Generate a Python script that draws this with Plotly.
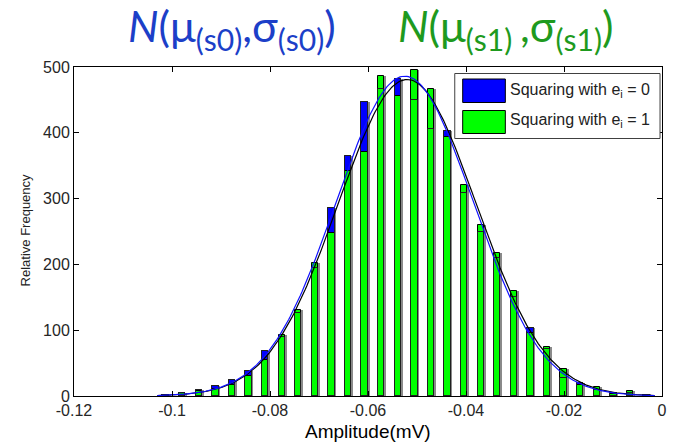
import numpy as np
import plotly.graph_objects as go

# ---- data ----
bin_centers = [-0.10130, -0.09792, -0.09453, -0.09115, -0.08776, -0.08438,
               -0.08100, -0.07761, -0.07423, -0.07084, -0.06746, -0.06408,
               -0.06069, -0.05731, -0.05392, -0.05054, -0.04716, -0.04377,
               -0.04039, -0.03700, -0.03362, -0.03024, -0.02685, -0.02347,
               -0.02008, -0.01670, -0.01332, -0.00993, -0.00655, -0.00316]
counts_e0 = [1, 5, 9, 15, 24, 38, 69, 89, 126, 195, 286, 365, 447, 466, 482,
             450, 406, 402, 309, 249, 209, 151, 104, 72, 28, 20, 9, 5, 4, 1]
counts_e1 = [1, 4, 7, 11, 17, 31, 55, 93, 130, 202, 247, 342, 371, 486, 456,
             495, 466, 393, 320, 260, 218, 159, 96, 74, 41, 16, 14, 3, 8, 2]

# fitted normal curves  N(mu, sigma) scaled to the histogram
fit_s0 = dict(mu=-0.0525, sigma=0.0140, peak=486)
fit_s1 = dict(mu=-0.0520, sigma=0.0141, peak=481)
curve_x = np.linspace(-0.1030, -0.0015, 300)

legend_labels = ["Squaring with e<sub>i</sub> = 0", "Squaring with e<sub>i</sub> = 1"]
x_ticks = [-0.12, -0.1, -0.08, -0.06, -0.04, -0.02, 0]
x_ticktext = ["-0.12", "-0.1", "-0.08", "-0.06", "-0.04", "-0.02", "0"]
y_ticks = [0, 100, 200, 300, 400, 500]

BLUE = "#0000FF"
GREEN = "#00FF00"
BAR_W = 0.00130


def gauss(p):
    return p["peak"] * np.exp(-(curve_x - p["mu"]) ** 2 / (2 * p["sigma"] ** 2))


fig = go.Figure()

# grey shadow on the right side of every bar
shadow = [max(a, b) for a, b in zip(counts_e0, counts_e1)]
fig.add_trace(go.Bar(x=bin_centers, y=shadow, width=BAR_W,
                     offset=-BAR_W / 2 + 0.00035,
                     marker=dict(color="#8a8a8a", line=dict(width=0)),
                     showlegend=False, hoverinfo="skip"))
fig.add_trace(go.Bar(x=bin_centers, y=counts_e0, width=BAR_W,
                     marker=dict(color=BLUE, line=dict(color="black", width=1)),
                     showlegend=False))
fig.add_trace(go.Bar(x=bin_centers, y=counts_e1, width=BAR_W,
                     marker=dict(color=GREEN, line=dict(color="black", width=1)),
                     showlegend=False))
# outline of e=0 bars drawn on top (visible inside the green bars)
fig.add_trace(go.Bar(x=bin_centers, y=counts_e0, width=BAR_W,
                     marker=dict(color="rgba(0,0,0,0)", line=dict(color="#202020", width=1)),
                     showlegend=False, hoverinfo="skip"))

fig.add_trace(go.Scatter(x=curve_x, y=gauss(fit_s1), mode="lines",
                         line=dict(color="black", width=1.2), showlegend=False))
fig.add_trace(go.Scatter(x=curve_x, y=gauss(fit_s0), mode="lines",
                         line=dict(color="#1010FF", width=1.2), showlegend=False))

PL, PR, PT, PB = 74, 7, 67, 47
W, H = 674, 443
pw, ph = W - PL - PR, H - PT - PB


def px(x):
    return (x - PL) / pw


def py(y):
    return (H - PB - y) / ph


shapes = [
    dict(type="rect", xref="paper", yref="paper", x0=px(458), x1=px(665),
         y0=py(138.5), y1=py(73.5), line=dict(color="#404040", width=1),
         fillcolor="white", layer="above"),
    dict(type="rect", xref="paper", yref="paper", x0=px(466), x1=px(509),
         y0=py(102.5), y1=py(79), line=dict(color="black", width=1),
         fillcolor=BLUE, layer="above"),
    dict(type="rect", xref="paper", yref="paper", x0=px(466), x1=px(509),
         y0=py(133.5), y1=py(110.5), line=dict(color="black", width=1),
         fillcolor=GREEN, layer="above"),
]

FONT = "Liberation Sans, Arial, sans-serif"
TFONT = "Lato, Open Sans, sans-serif"
annotations = [
    dict(text=legend_labels[0], xref="paper", yref="paper", x=px(512), y=py(90),
         xanchor="left", yanchor="middle", showarrow=False,
         font=dict(family=FONT, size=16, color="#222222")),
    dict(text=legend_labels[1], xref="paper", yref="paper", x=px(512), y=py(121),
         xanchor="left", yanchor="middle", showarrow=False,
         font=dict(family=FONT, size=16, color="#222222")),
    dict(text="Amplitude(mV)", xref="paper", yref="paper", x=px(370), y=py(432),
         xanchor="center", yanchor="middle", showarrow=False,
         font=dict(family=FONT, size=19, color="black")),
    dict(text="Relative Frequency", xref="paper", yref="paper", x=px(25), y=py(230),
         xanchor="center", yanchor="middle", textangle=-90, showarrow=False,
         font=dict(family=FONT, size=13, color="#222222")),
    dict(text="<i>N</i>(μ<sub>(s0)</sub>,σ<sub>(s0)</sub>)", xref="paper", yref="paper",
         x=px(233), y=py(29), xanchor="center", yanchor="middle", showarrow=False,
         font=dict(family=TFONT, size=43, color="#1C3FC8")),
    dict(text="<i>N</i>(μ<sub>(s1) </sub>,σ<sub>(s1)</sub>)", xref="paper", yref="paper",
         x=px(510), y=py(29), xanchor="center", yanchor="middle", showarrow=False,
         font=dict(family=TFONT, size=43, color="#1E9A1E")),
]

fig.update_layout(
    width=W, height=H,
    margin=dict(l=PL, r=PR, t=PT, b=PB),
    paper_bgcolor="white", plot_bgcolor="white",
    barmode="overlay", bargap=0,
    showlegend=False,
    shapes=shapes, annotations=annotations,
    font=dict(family=FONT, size=16, color="#262626"),
)
fig.update_xaxes(range=[-0.12, 0], tickvals=x_ticks, ticktext=x_ticktext,
                 ticks="inside", ticklen=5, tickcolor="black",
                 showline=True, linecolor="black", linewidth=1, mirror="ticks",
                 showgrid=False, zeroline=False,
                 tickfont=dict(family=FONT, size=16, color="#262626"))
fig.update_yaxes(range=[0, 500], tickvals=y_ticks,
                 ticks="inside", ticklen=5, tickcolor="black",
                 showline=True, linecolor="black", linewidth=1, mirror="ticks",
                 showgrid=False, zeroline=False,
                 tickfont=dict(family=FONT, size=16, color="#262626"))

fig.write_html("out.html", config={"displayModeBar": False},
               post_script="document.body.style.margin='0';document.body.style.padding='0';")
